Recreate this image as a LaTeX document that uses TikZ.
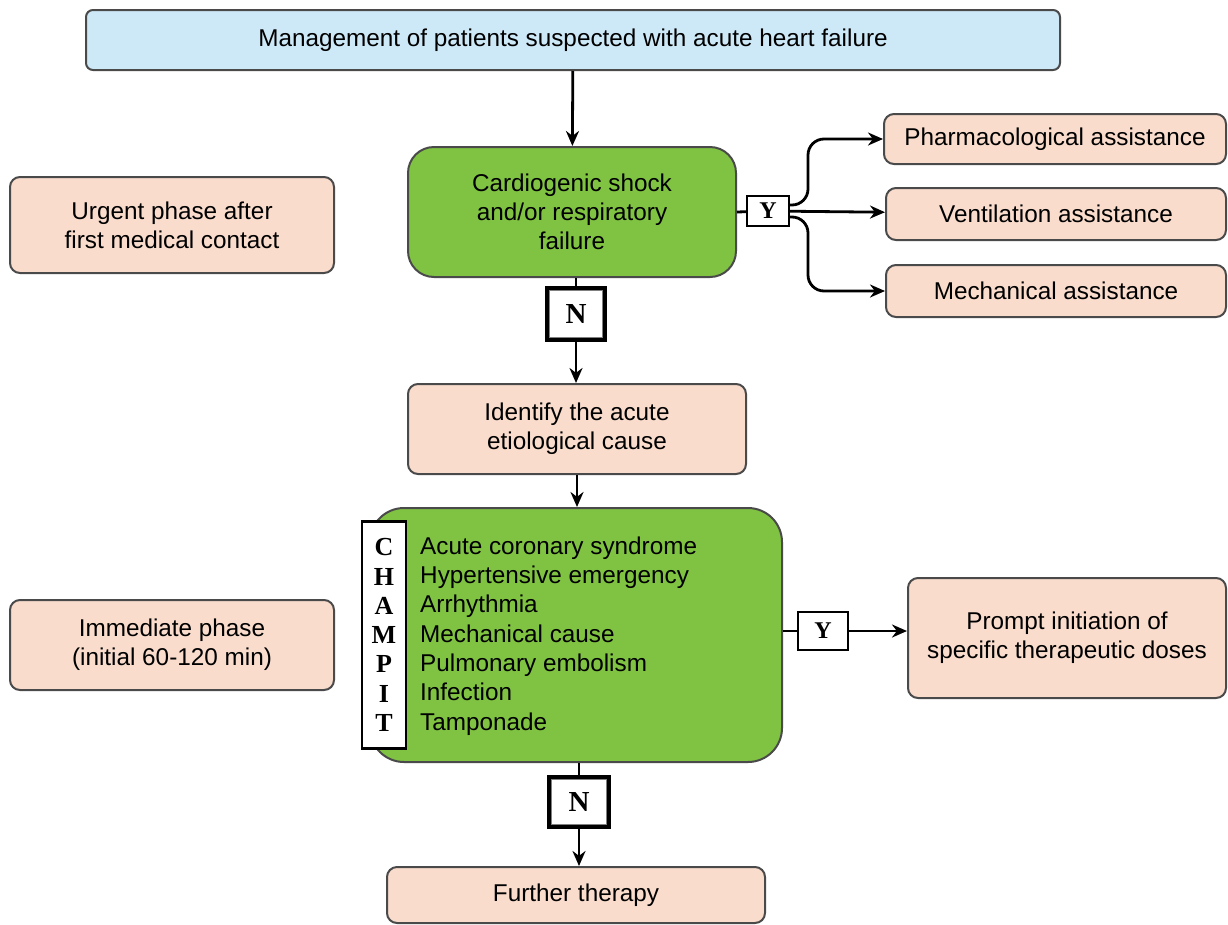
\documentclass[tikz,border=0pt]{standalone}
\usepackage{fontspec}
\setmainfont{Liberation Sans}
\newfontfamily\letterfont{Liberation Serif}
\usetikzlibrary{arrows.meta,calc}
\definecolor{peach}{HTML}{F9DCCC}
\definecolor{skyfill}{HTML}{CDE9F8}
\definecolor{leaf}{HTML}{80C342}
\definecolor{edge}{HTML}{4A4A4A}
\begin{document}
\begin{tikzpicture}[x=1pt,y=-1pt,
  txt/.style={font=\fontsize{24.3}{29}\selectfont},
  box/.style={draw=edge, line width=2pt, inner sep=0pt, align=center, txt},
  peachbox/.style={box, fill=peach, rounded corners=10pt},
  greenbox/.style={box, fill=leaf, rounded corners=26pt},
  tag/.style={draw=black, fill=white, line width=1.4pt, inner sep=0pt,
    font=\letterfont\bfseries\fontsize{24}{26}\selectfont},
  ntag/.style={draw=black, fill=white, line width=3.2pt, inner sep=0pt,
    font=\letterfont\bfseries\fontsize{29}{30}\selectfont},
  link/.style={line width=2.8pt, draw=black},
  arr/.style={link, -{Stealth[length=15pt,width=13pt]}}
]
\useasboundingbox (0,0) rectangle (1228,924);

% boxes
\node[box, fill=skyfill, rounded corners=7pt, minimum width=974pt, minimum height=60pt] (top) at (573,40)
  {Management of patients suspected with acute heart failure};
\node[greenbox, minimum width=328pt, minimum height=130pt] (g1) at (572,212)
  {Cardiogenic shock\\and/or respiratory\\failure};
\node[peachbox, minimum width=324pt, minimum height=96pt] (urgent) at (172,225)
  {Urgent phase after\\first medical contact};
\node[peachbox, minimum width=342pt, minimum height=50pt] (pharm) at (1055,139)
  {Pharmacological assistance};
\node[peachbox, minimum width=340pt, minimum height=52pt] (vent) at (1056,214)
  {Ventilation assistance};
\node[peachbox, minimum width=340pt, minimum height=52pt] (mech) at (1056,291)
  {Mechanical assistance};
\node[tag, minimum width=42pt, minimum height=30pt] (y1) at (768,211) {Y};
\node[ntag, minimum width=58pt, minimum height=52pt] (n1) at (576,314) {N};
\draw[gray, line width=1pt] ($(n1.south west)+(4.5,-4.5)$) rectangle ($(n1.north east)+(-4.5,4.5)$);
\node[peachbox, minimum width=338pt, minimum height=90pt] (ident) at (577,429)
  {Identify the acute\\etiological cause};
\node[greenbox, rounded corners=34pt, minimum width=412pt, minimum height=254pt] (g2) at (576,635) {};
\node[anchor=west, align=left, inner sep=0pt, font=\fontsize{24.3}{29.3}\selectfont] (list) at (420,636)
  {Acute coronary syndrome\\Hypertensive emergency\\Arrhythmia\\Mechanical cause\\Pulmonary embolism\\Infection\\Tamponade};
\node[draw=black, fill=white, line width=2.2pt, inner sep=0pt, minimum width=44pt, minimum height=227pt,
  align=center, font=\letterfont\bfseries\fontsize{26}{29.3}\selectfont] (champ) at (384,635)
  {C\\H\\A\\M\\P\\I\\T};
\node[peachbox, minimum width=324pt, minimum height=90pt] (immed) at (172,645)
  {Immediate phase\\(initial 60-120 min)};
\node[tag, minimum width=50pt, minimum height=38pt] (y2) at (823,631) {Y};
\node[peachbox, minimum width=318pt, minimum height=120pt] (prompt) at (1067,638)
  {Prompt initiation of\\specific therapeutic doses};
\node[ntag, minimum width=60pt, minimum height=50pt] (n2) at (579,802) {N};
\draw[gray, line width=1pt] ($(n2.south west)+(4.5,-4.5)$) rectangle ($(n2.north east)+(-4.5,4.5)$);
\node[peachbox, minimum width=378pt, minimum height=56pt] (further) at (576,895)
  {Further therapy};

% connectors
\draw[arr] (top) -- (g1);
\draw[link] (g1.south -| n1) -- (n1);
\draw[arr] (n1) -- (ident.north -| n1);
\draw[arr] (ident) -- (g2.north -| ident);
\draw[link] (g2.south -| n2) -- (n2);
\draw[arr] (n2) -- (further.north -| n2);
\draw[link] (g1.east) -- (y1);
\draw[arr] (y1) -- (vent);
\draw[arr, rounded corners=16pt] ($(y1.east)+(0,-6)$) -- (808,205) -- (808,139) -- (pharm.west);
\draw[arr, rounded corners=16pt] ($(y1.east)+(0,6)$) -- (808,217) -- (808,291) -- (mech.west);
\draw[link] (g2.east |- y2) -- (y2);
\draw[arr] (y2) -- (prompt.west |- y2);
\end{tikzpicture}
\end{document}
